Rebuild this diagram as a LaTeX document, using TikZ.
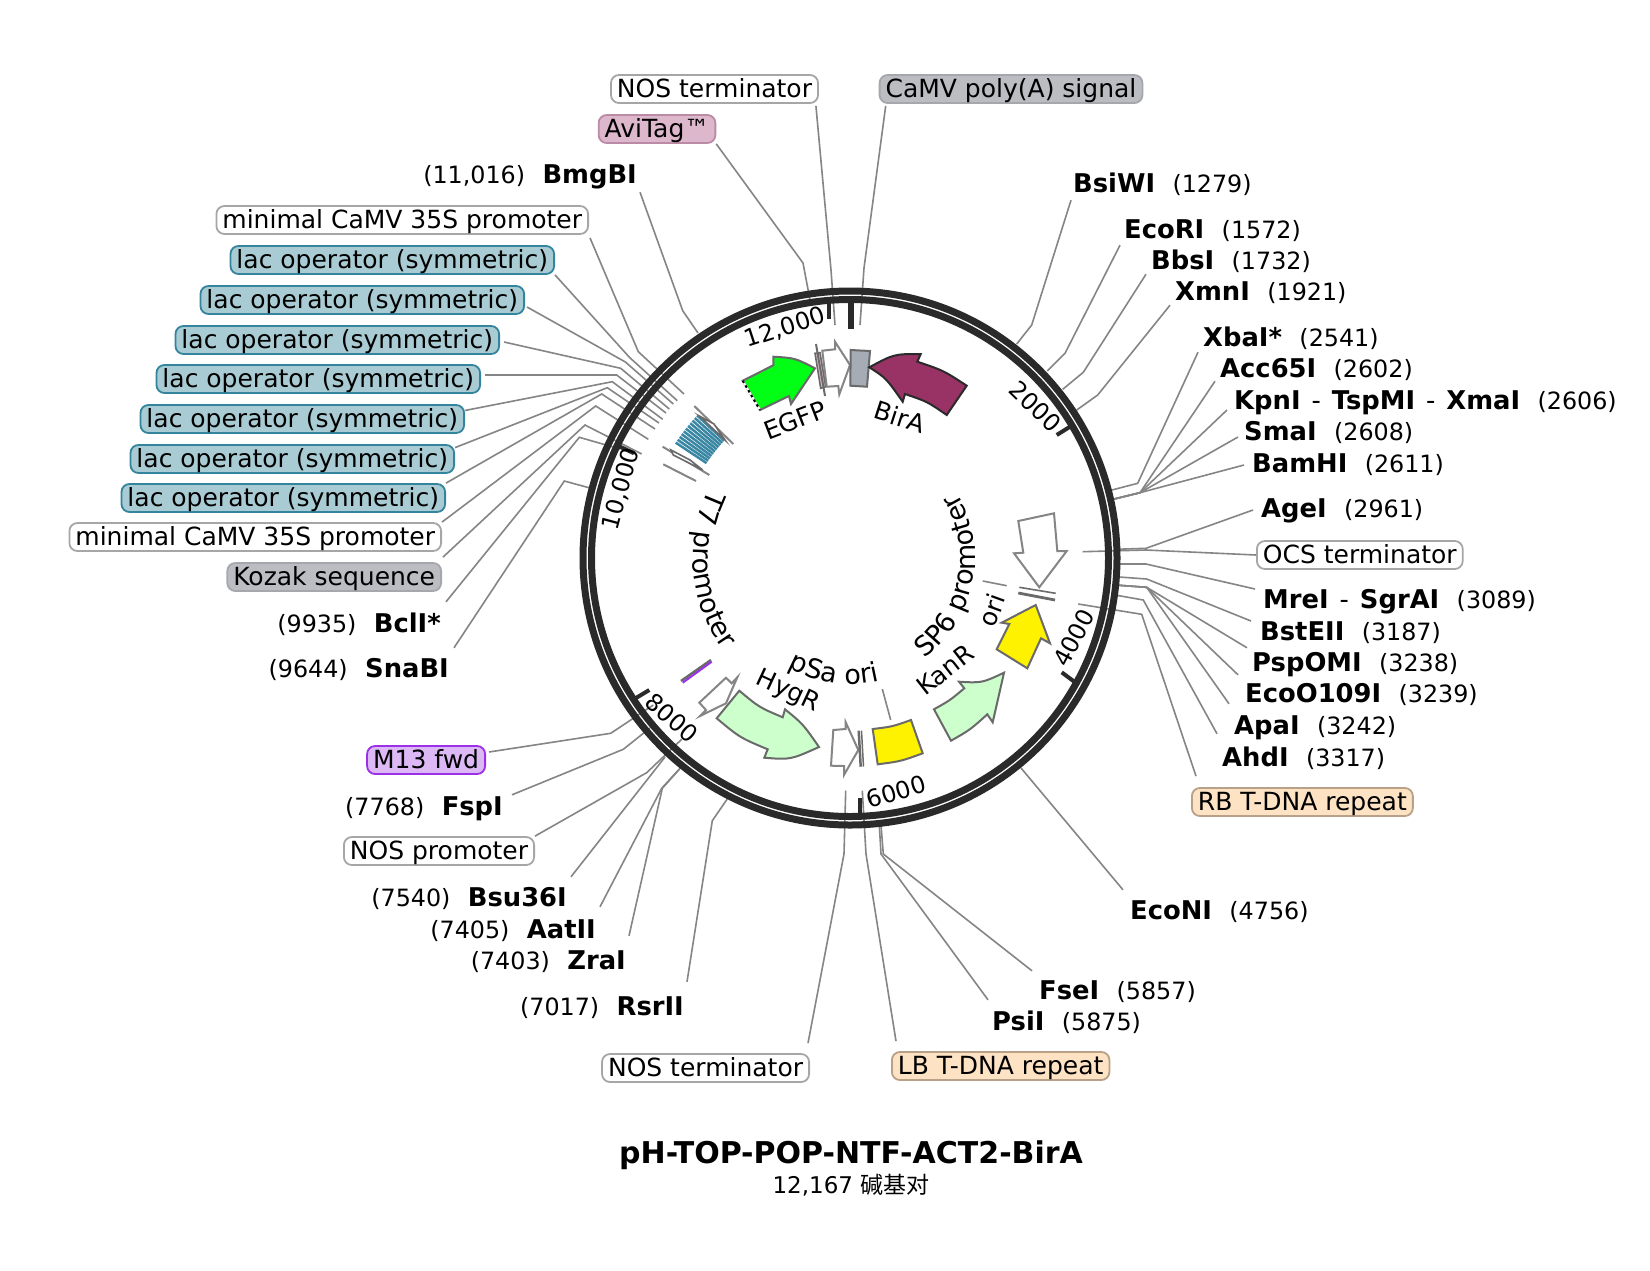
\documentclass[tikz,border=0pt]{standalone}
\usepackage{fontspec}
\setmainfont{DejaVu Sans}
\newfontfamily\cjkfont{Noto Sans CJK SC}
\usetikzlibrary{positioning, decorations.text}
\newcommand{\featfont}{\fontsize{25}{30}\selectfont}
\newcommand{\curvefont}{\fontsize{27}{32}\selectfont}
\newcommand{\numfont}{\fontsize{23.8}{28}\selectfont}
\newcommand{\enzfont}{\fontsize{25.8}{30}\selectfont\bfseries}
\definecolor{ringcol}{HTML}{2A2A2A}
\definecolor{leadcol}{HTML}{858585}
\definecolor{edgecol}{HTML}{6A6A6A}
\tikzset{
    lab/.style={inner xsep=0pt, inner ysep=2pt, text height=18pt, text depth=4pt, font=\numfont},
    enz/.style={lab, font=\enzfont},
    feat/.style={draw, line width=1.8pt, rounded corners=8pt, inner xsep=6pt, inner ysep=0pt, minimum height=28pt, text height=22pt, text depth=5pt, font=\featfont},
    whitebox/.style={feat, draw=black!35, fill=white},
    lacbox/.style={feat, draw=lacedge, fill=lacfill},
    pinkbox/.style={feat, draw=pinkedge, fill=pinkfill},
    greybox/.style={feat, draw=greyedge, fill=greyfill},
    purplebox/.style={feat, draw=purpleedge, fill=purplefill},
    tanbox/.style={feat, draw=tanedge, fill=tanfill},
    leader/.style={leadcol, line width=1.6pt},
    tick/.style={ringcol, line width=4pt},
    ticklab/.style={inner sep=0pt, font=\numfont},
    featlab/.style={inner sep=0pt, font=\featfont},
    arrowfeat/.style={draw=edgecol, line width=2pt, line join=miter},
    lacstripe/.style={stripecol, line width=2.5pt}
}
\definecolor{lacedge}{HTML}{33849C}
\definecolor{lacfill}{HTML}{A9CCD4}
\definecolor{pinkedge}{HTML}{BB8AA5}
\definecolor{pinkfill}{HTML}{DDB8CC}
\definecolor{greyedge}{HTML}{A5A7AC}
\definecolor{greyfill}{HTML}{BBBDC2}
\definecolor{purpleedge}{HTML}{9B30E8}
\definecolor{purplefill}{HTML}{DCB8F5}
\definecolor{tanedge}{HTML}{B9A188}
\definecolor{tanfill}{HTML}{FDE2C4}
\definecolor{stripecol}{HTML}{3A87A3}
\definecolor{kancol}{HTML}{CCFFCC}
\definecolor{bircol}{HTML}{993366}
\definecolor{polycol}{HTML}{A5ACB5}
\definecolor{gfpcol}{HTML}{00FF14}
\begin{document}
\begin{tikzpicture}[x=1pt, y=-1pt]
    \useasboundingbox[fill=white] (0, 0) rectangle (1650, 1270);
    % top labels
    \node[whitebox] at (714.5, 89) (nosT) {NOS terminator};
    \node[greybox] at (1011, 89) (camv) {CaMV poly(A) signal};
    \node[pinkbox] at (657, 129) (avi) {AviTag™};
    \node[enz, anchor=east] at (637, 176) (BmgBI) {BmgBI};
    \node[lab, base left=17pt of BmgBI] (BmgBIpos) {(11,016)};
    % left labels
    \node[whitebox, anchor=east] at (589, 220) (min1) {minimal CaMV 35S promoter};
    \node[lacbox, anchor=east] at (555, 260) (lac1) {lac operator (symmetric)};
    \node[lacbox, anchor=east] at (525, 300) (lac2) {lac operator (symmetric)};
    \node[lacbox, anchor=east] at (500, 340) (lac3) {lac operator (symmetric)};
    \node[lacbox, anchor=east] at (481, 379) (lac4) {lac operator (symmetric)};
    \node[lacbox, anchor=east] at (465, 419) (lac5) {lac operator (symmetric)};
    \node[lacbox, anchor=east] at (455, 459) (lac6) {lac operator (symmetric)};
    \node[lacbox, anchor=east] at (446, 498) (lac7) {lac operator (symmetric)};
    \node[whitebox, anchor=east] at (442, 537) (min2) {minimal CaMV 35S promoter};
    \node[greybox, anchor=east] at (442, 577) (kozak) {Kozak sequence};
    \node[enz, anchor=east] at (441, 625) (BclI) {BclI*};
    \node[lab, base left=17pt of BclI] (BclIpos) {(9935)};
    \node[enz, anchor=east] at (449, 670) (SnaBI) {SnaBI};
    \node[lab, base left=17pt of SnaBI] (SnaBIpos) {(9644)};
    \node[purplebox, anchor=east] at (486, 760) (m13) {M13 fwd};
    \node[enz, anchor=east] at (503, 808) (FspI) {FspI};
    \node[lab, base left=17pt of FspI] (FspIpos) {(7768)};
    \node[whitebox, anchor=east] at (535, 851) (nosP) {NOS promoter};
    \node[enz, anchor=east] at (567, 899) (Bsu36I) {Bsu36I};
    \node[lab, base left=17pt of Bsu36I] (Bsu36Ipos) {(7540)};
    \node[enz, anchor=east] at (596, 931) (AatII) {AatII};
    \node[lab, base left=17pt of AatII] (AatIIpos) {(7405)};
    \node[enz, anchor=east] at (626, 962) (ZraI) {ZraI};
    \node[lab, base left=17pt of ZraI] (ZraIpos) {(7403)};
    \node[enz, anchor=east] at (684, 1008) (RsrII) {RsrII};
    \node[lab, base left=17pt of RsrII] (RsrIIpos) {(7017)};
    % bottom labels
    \node[whitebox, anchor=east] at (810, 1068) (nosB) {NOS terminator};
    \node[tanbox, anchor=west] at (891, 1066) (lb) {LB T-DNA repeat};
    \node[enz, anchor=west] at (992, 1023) (PsiI) {PsiI};
    \node[lab, base right=17pt of PsiI] (PsiIpos) {(5875)};
    \node[enz, anchor=west] at (1039, 992) (FseI) {FseI};
    \node[lab, base right=17pt of FseI] (FseIpos) {(5857)};
    \node[enz, anchor=west] at (1130, 912) (EcoNI) {EcoNI};
    \node[lab, base right=17pt of EcoNI] (EcoNIpos) {(4756)};
    % right labels
    \node[tanbox, anchor=west] at (1191, 802) (rb) {RB T-DNA repeat};
    \node[enz, anchor=west] at (1222, 759) (AhdI) {AhdI};
    \node[lab, base right=17pt of AhdI] (AhdIpos) {(3317)};
    \node[enz, anchor=west] at (1234, 727) (ApaI) {ApaI};
    \node[lab, base right=17pt of ApaI] (ApaIpos) {(3242)};
    \node[enz, anchor=west] at (1245, 695) (EcoO) {EcoO109I};
    \node[lab, base right=17pt of EcoO] (EcoOpos) {(3239)};
    \node[enz, anchor=west] at (1252, 664) (PspOMI) {PspOMI};
    \node[lab, base right=17pt of PspOMI] (PspOMIpos) {(3238)};
    \node[enz, anchor=west] at (1260, 633) (BstEII) {BstEII};
    \node[lab, base right=17pt of BstEII] (BstEIIpos) {(3187)};
    \node[enz, anchor=west] at (1263, 601) (MreI) {MreI\hspace{2pt} \textmd{-} \hspace{2pt}SgrAI};
    \node[lab, base right=17pt of MreI] (MreIpos) {(3089)};
    \node[whitebox, anchor=west] at (1256, 555) (ocs) {OCS terminator};
    \node[enz, anchor=west] at (1261, 510) (AgeI) {AgeI};
    \node[lab, base right=17pt of AgeI] (AgeIpos) {(2961)};
    \node[enz, anchor=west] at (1252, 465) (BamHI) {BamHI};
    \node[lab, base right=17pt of BamHI] (BamHIpos) {(2611)};
    \node[enz, anchor=west] at (1244, 433) (SmaI) {SmaI};
    \node[lab, base right=17pt of SmaI] (SmaIpos) {(2608)};
    \node[enz, anchor=west] at (1234, 402) (KpnI) {KpnI\hspace{2pt} \textmd{-} \hspace{2pt}TspMI\hspace{2pt} \textmd{-} \hspace{2pt}XmaI};
    \node[lab, base right=17pt of KpnI] (KpnIpos) {(2606)};
    \node[enz, anchor=west] at (1220, 370) (Acc65I) {Acc65I};
    \node[lab, base right=17pt of Acc65I] (Acc65Ipos) {(2602)};
    \node[enz, anchor=west] at (1203, 339) (XbaI) {XbaI*};
    \node[lab, base right=17pt of XbaI] (XbaIpos) {(2541)};
    \node[enz, anchor=west] at (1175, 293) (XmnI) {XmnI};
    \node[lab, base right=17pt of XmnI] (XmnIpos) {(1921)};
    \node[enz, anchor=west] at (1151, 262) (BbsI) {BbsI};
    \node[lab, base right=17pt of BbsI] (BbsIpos) {(1732)};
    \node[enz, anchor=west] at (1124, 231) (EcoRI) {EcoRI};
    \node[lab, base right=17pt of EcoRI] (EcoRIpos) {(1572)};
    \node[enz, anchor=west] at (1073, 185) (BsiWI) {BsiWI};
    \node[lab, base right=17pt of BsiWI] (BsiWIpos) {(1279)};
    % title
    \node[font=\fontsize{30}{35}\selectfont\bfseries] at (851, 1155) (title) {pH-TOP-POP-NTF-ACT2-BirA};
    \node[font=\fontsize{23}{27}\selectfont] at (851, 1185) (size) {12,167 {\cjkfont 碱基对}};
    % leaders, top and left
    \coordinate (eNosT) at (835, 325); \draw[leader] ([shift={(-3, 2)}]nosT.south east) -- (831, 270) -- (eNosT);
    \coordinate (eAvi) at (810, 300); \draw[leader] (avi.south east) -- (803, 263) -- (eAvi);
    \coordinate (eCamv) at (860, 325); \draw[leader] ([shift={(7, 2)}]camv.south west) -- (864, 268) -- (eCamv);
    \coordinate (eBmg) at (698, 333); \draw[leader] ([shift={(3, 3)}]BmgBI.south east) -- (682.7, 310.7) -- (eBmg);
    \coordinate (eMin1) at (684, 394); \draw[leader] ([shift={(1, 3)}]min1.south east) -- (638.3, 351.7) -- (eMin1);
    \coordinate (eLac1) at (677.3, 400.7); \draw[leader] (lac1.south east) -- (629.6, 357.5) -- (eLac1);
    \coordinate (eLac2) at (673.3, 404); \draw[leader] ([shift={(2, 7)}]lac2.east) -- (625.4, 362) -- (eLac2);
    \coordinate (eLac3) at (669.3, 409); \draw[leader] ([shift={(4, 2)}]lac3.east) -- (620.7, 368.3) -- (eLac3);
    \coordinate (eLac4) at (666, 413); \draw[leader] ([shift={(4, -4)}]lac4.east) -- (616.7, 375) -- (eLac4);
    \coordinate (eLac5) at (662.7, 419.3); \draw[leader] (lac5.3) -- (612.3, 381.7) -- (eLac5);
    \coordinate (eLac6) at (659, 423); \draw[leader] (lac6.4) -- (607.3, 387.7) -- (eLac6);
    \coordinate (eLac7) at (655, 429); \draw[leader] (lac7.north east) -- (601.7, 394) -- (eLac7);
    \coordinate (eMin2) at (648.3, 439.3); \draw[leader] (min2.north east) -- (595.7, 406) -- (eMin2);
    \coordinate (eKozak) at (641.7, 454); \draw[leader] ([shift={(1, -5)}]kozak.north east) -- (585, 425) -- (eKozak);
    \coordinate (eBcl) at (620, 449); \draw[leader] ([shift={(5, -10)}]BclI.north east) -- (579.3, 437.3) -- (eBcl);
    \coordinate (eSna) at (590, 488); \draw[leader] ([shift={(5, -9)}]SnaBI.north east) -- (564.3, 481) -- (eSna);
    % leaders, lower left
    \coordinate (eM13) at (653.3, 705); \draw[leader] ([shift={(3, -8)}]m13.east) -- (610.7, 733.3) -- (eM13);
    \coordinate (eFsp) at (650, 728); \draw[leader] ([shift={(9, 0)}]FspI.north east) -- (623.3, 749.3) -- (eFsp);
    \coordinate (eNosP) at (681.7, 739.3); \draw[leader] (nosP.north east) -- (646.7, 772.7) -- (eNosP);
    \coordinate (eBsu) at (665, 757); \draw[leader] ([shift={(4, -9)}]Bsu36I.north east) -- (eBsu);
    \coordinate (eAat) at (680, 768.3); \draw[leader] ([shift={(4, -11)}]AatII.north east) -- (661.7, 788.3) -- (eAat);
    \coordinate (eZra) at (679.3, 769.3); \draw[leader] ([shift={(3, -13)}]ZraI.north east) -- (662.3, 788.3) -- (eZra);
    \coordinate (eRsr) at (730, 795); \draw[leader] ([shift={(3, -13)}]RsrII.north east) -- (712.3, 820.7) -- (eRsr);
    % leaders, bottom
    \coordinate (eNosB) at (845.7, 790.7); \draw[leader] ([shift={(-2, -10)}]nosB.north east) -- (844, 854) -- (eNosB);
    \coordinate (eLb) at (862.3, 790.7); \draw[leader] ([shift={(5, -10)}]lb.north west) -- (866, 854) -- (eLb);
    \coordinate (ePsi) at (879.3, 825); \draw[leader] ([shift={(-4, -10)}]PsiI.north west) -- (881, 854) -- (ePsi);
    \coordinate (eFse) at (881, 825); \draw[leader] ([shift={(-7, -8)}]FseI.north west) -- (883.3, 854) -- (eFse);
    \coordinate (eEcoN) at (1021, 768); \draw[leader] ([shift={(-7, -9)}]EcoNI.north west) -- (eEcoN);
    % leaders, right
    \coordinate (eRb) at (1078.3, 604); \draw[leader] ([shift={(5, -11)}]rb.north west) -- (1141.7, 614.3) -- (eRb);
    \coordinate (eAhd) at (1115, 595); \draw[leader] ([shift={(-5, -12)}]AhdI.north west) -- (1143.3, 600) -- (eAhd);
    \coordinate (eApa) at (1115, 585); \draw[leader] ([shift={(-5, -10)}]ApaI.north west) -- (1146.7, 587.3) -- (eApa);
    \coordinate (eEcoO) at (1115, 585); \draw[leader] ([shift={(-7, -7)}]EcoO.north west) -- (1146.7, 587.3) -- (eEcoO);
    \coordinate (ePsp) at (1115, 585); \draw[leader] ([shift={(-5, -3)}]PspOMI.north west) -- (1146.7, 587.3) -- (ePsp);
    \coordinate (eBst) at (1115, 576.7); \draw[leader] ([shift={(-9, -12)}]BstEII.west) -- (1146.7, 579) -- (eBst);
    \coordinate (eMre) at (1115, 564); \draw[leader] ([shift={(-8, -12)}]MreI.west) -- (1146, 564) -- (eMre);
    \coordinate (eOcs) at (1082.7, 551.7); \draw[leader] (ocs.west) -- (1146, 550) -- (eOcs);
    \coordinate (eAge) at (1115, 549.3); \draw[leader] ([shift={(-8, 0)}]AgeI.west) -- (1146, 548.3) -- (eAge);
    \coordinate (eBam) at (1110, 500); \draw[leader] ([shift={(-8, 0)}]BamHI.west) -- (1140, 492.7) -- (eBam);
    \coordinate (eSma) at (1110, 500); \draw[leader] ([shift={(-6, 4)}]SmaI.west) -- (1140, 492.7) -- (eSma);
    \coordinate (eKpn) at (1110, 500); \draw[leader] ([shift={(-7, 8)}]KpnI.west) -- (1140, 492.7) -- (eKpn);
    \coordinate (eAcc) at (1110, 500); \draw[leader] ([shift={(-5, -2)}]Acc65I.south west) -- (1140, 492.7) -- (eAcc);
    \coordinate (eXba) at (1108, 491); \draw[leader] ([shift={(-5, 0)}]XbaI.south west) -- (1137.7, 483.3) -- (eXba);
    \coordinate (eXmn) at (1076.7, 410); \draw[leader] ([shift={(-5, -1)}]XmnI.south west) -- (1097.7, 395) -- (eXmn);
    \coordinate (eBbs) at (1062.7, 389.3); \draw[leader] ([shift={(-5, -1)}]BbsI.south west) -- (1083.3, 372.3) -- (eBbs);
    \coordinate (eEcoR) at (1047.3, 371); \draw[leader] ([shift={(-4, 1)}]EcoRI.south west) -- (1065, 353.3) -- (eEcoR);
    \coordinate (eBsi) at (1016.7, 344); \draw[leader] ([shift={(-2, 2)}]BsiWI.south west) -- (1031.7, 325) -- (eBsi);
    % ring
    \draw[ringcol, line width=7pt] (850, 558) circle (267);
    \draw[ringcol, line width=7pt] (850, 558) circle (258.5);
    % ticks
    \draw[tick] (829, 303) -- (829, 319);
    \draw[tick, line width=6pt] (851, 303) -- (851, 329);
    \draw[tick] (1056.7, 435) -- (1070, 426.7);
    \draw[tick] (1061.7, 672.3) -- (1074.3, 681.7);
    \draw[tick] (860, 798) -- (860, 815);
    \draw[tick] (636, 698) -- (649.3, 690);
    \draw[tick] (620, 446.7) -- (634, 453.3);
    \node[ticklab, rotate=18] at (785, 328) (t12) {12,000};
    \node[ticklab, rotate=-44] at (1035.7, 406.7) (t2) {2000};
    \node[ticklab, rotate=62] at (1074, 638) (t4) {4000};
    \node[ticklab, rotate=17] at (896, 791.7) (t6) {6000};
    \node[ticklab, rotate=-41] at (671.7, 718) (t8) {8000};
    \node[ticklab, rotate=75] at (621, 489) (t10) {10,000};
    % lac operators
    \begin{scope}[shift={(850, 558)}]
        \foreach \a in {213.5, 214.45, ..., 223} \draw[lacstripe] (\a:172) -- (\a:209);
    \end{scope}
    \draw[leadcol, line width=2pt] (694.3, 406) -- (733.3, 444);
    \draw[arrowfeat, fill=white, line width=1.6pt] (699.3, 416) -- (714, 424) -- (725, 440) -- cycle;
    \draw[leadcol, line width=2pt] (662.7, 446.7) -- (709.3, 475);
    \draw[arrowfeat, fill=white, line width=1.6pt] (671, 450) -- (673.3, 455) -- (702.7, 470) -- (690, 460) -- cycle;
    \draw[leadcol, line width=2pt] (663.3, 464.3) -- (696, 481);
    % EGFP
    \draw[arrowfeat, fill=gfpcol] (742.7, 380.7) -- (773.3, 365.3) -- (773.3, 356.7) .. controls (795, 358) .. (815, 368.3) -- (791, 404) -- (789, 396) -- (760, 410) -- cycle;
    \draw[white, line width=2pt] (742.7, 380.7) -- (760, 410);
    \draw[black, line width=2pt, dash pattern=on 2.5pt off 3pt] (742.7, 380.7) -- (760, 410);
    % AviTag, NOS terminator, poly(A)
    \draw[draw=edgecol, fill=pinkfill, line width=1.6pt] (815, 353.3) -- (820, 352.7) -- (825.7, 386.7) -- (820.7, 388.3) -- cycle;
    \draw[edgecol, line width=2pt] (816, 344) -- (825, 396);
    \draw[draw=leadcol, fill=white, line width=2pt] (822.3, 350.7) -- (835, 349.3) -- (835, 341.7) -- (850, 365) -- (839.3, 394.3) -- (838.3, 386) -- (826.7, 386.7) -- cycle;
    \draw[arrowfeat, fill=polycol] (850.7, 350) -- (870, 351) -- (867, 386.7) -- (850.3, 385.7) -- cycle;
    % BirA
    \draw[draw=ringcol, fill=bircol, line width=2pt] (869.3, 367.3) .. controls (894, 354) .. (920.7, 354) -- (917.3, 361.7) .. controls (943.5, 370.5) .. (966.7, 385.7) -- (946.7, 415) .. controls (927.3, 401.6) .. (905, 394) -- (902.7, 401.7) .. controls (886, 378) .. cycle;
    % OCS terminator and RB repeat
    \draw[draw=leadcol, fill=white, line width=2pt] (1018.3, 521) -- (1054, 513.3) -- (1057.3, 551) -- (1066.7, 551) -- (1039.3, 587.3) -- (1014, 553.3) -- (1023.3, 552.7) -- cycle;
    \draw[edgecol, line width=1.6pt] (1019.3, 587.3) -- (1055.7, 593.3);
    \draw[edgecol, line width=2.8pt] (1018.3, 593) -- (1055, 600);
    \coordinate (oriA) at (982.7, 581); \coordinate (oriB) at (1006.7, 585.7);
    \draw[leader] (oriA) -- (oriB);
    % ori
    \draw[arrowfeat, fill=yellow] (996.7, 649.3) -- (1009.3, 624) -- (1001.7, 622.7) -- (1035.7, 605) -- (1050, 643.3) -- (1041, 638.3) -- (1027.3, 668.3) -- cycle;
    % KanR
    \draw[arrowfeat, fill=kancol] (934, 709.3) .. controls (950, 700.3) .. (964.3, 688.3) -- (959, 681.7) .. controls (982, 683) .. (1004, 672.7) -- (992.7, 722.3) -- (987.3, 714.3) .. controls (970.4, 729.6) .. (951, 740.7) -- cycle;
    % pSa ori
    \draw[arrowfeat, fill=yellow] (872.7, 729) .. controls (892.4, 726.6) .. (911, 720) -- (922.7, 753.3) .. controls (900.8, 761.3) .. (877.7, 764.3) -- cycle;
    \coordinate (pSaA) at (882.3, 689); \coordinate (pSaB) at (890.7, 720);
    \draw[leader] (pSaA) -- (pSaB);
    % NOS terminator and LB repeat
    \draw[draw=leadcol, fill=white, line width=2pt] (833.3, 730) -- (845.7, 729) -- (845.7, 722.3) -- (858.3, 750) -- (844, 775) -- (844, 766) -- (831, 765.7) -- cycle;
    \draw[edgecol, line width=2.5pt] (858.7, 730.7) -- (860.7, 766.7);
    \draw[edgecol, line width=1.5pt] (861.5, 730.7) -- (863.5, 766.7);
    % HygR
    \draw[arrowfeat, fill=kancol] (739.3, 690.7) .. controls (759, 707.2) .. (782.7, 717.3) -- (785, 709.3) .. controls (803, 724) .. (819, 747) .. controls (790.5, 759.8) .. (764.3, 757.7) -- (767.7, 749.3) .. controls (739.8, 737.6) .. (716.7, 718.3) -- cycle;
    % NOS promoter
    \draw[draw=leadcol, fill=white, line width=2pt] (737.3, 677.3) -- (726, 703.3) -- (700, 716) -- (706, 710) -- (699.3, 702.7) -- (726, 677.7) -- (731.7, 683.3) -- cycle;
    % M13 fwd
    \draw[edgecol, line width=2.5pt] (681, 681) -- (711, 660);
    \draw[purpleedge, line width=2pt] (682.7, 682.7) -- (711.7, 661.7);
    % feature labels
    \node[featlab, rotate=21] at (795, 420) (egfpL) {EGFP};
    \node[featlab, rotate=-18] at (900, 416.7) (birL) {BirA};
    \node[featlab, rotate=-25] at (788, 692) (hygL) {HygR};
    \node[featlab, rotate=38] at (945, 670) (kanL) {KanR};
    \node[featlab, rotate=70] at (991.7, 610) (oriL) {ori};
    \begin{scope}[shift={(850, 558)}]
        \path[decorate, decoration={text along path, text align=center, text={|\curvefont|T7 promoter}}] (212:157) arc (212:138:157);
        \path[decorate, decoration={text along path, text align=center, text={|\curvefont|SP6 promoter}}] (64:125) arc (64:-42:125);
        \path[decorate, decoration={text along path, text align=center, text={|\curvefont|pSa ori}}] (130:126) arc (130:66:126);
    \end{scope}
\end{tikzpicture}
\end{document}
